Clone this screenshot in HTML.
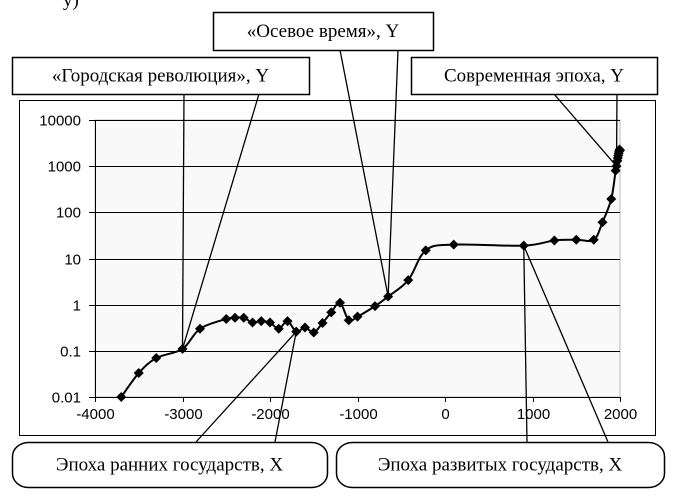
<!DOCTYPE html>
<html><head><meta charset="utf-8">
<style>
body{margin:0;background:#fff;}
svg{display:block;}
.t{font-family:"Liberation Sans",Arial,sans-serif;font-size:15px;fill:#000;}
.b{font-family:"Liberation Serif","Times New Roman",serif;font-size:19px;fill:#000;}
</style></head>
<body>
<svg id="c" width="689" height="497" viewBox="0 0 689 497" xmlns="http://www.w3.org/2000/svg">
<text x="63" y="6" class="b">у)</text>
<rect x="19.5" y="100.5" width="636" height="335" fill="#fff" stroke="#000"/>
<g id="plot"></g>
<g id="callouts"></g>
</svg>
<script>
const years=[-3700,-3500,-3300,-3000,-2800,-2500,-2400,-2300,-2200,-2100,-2000,-1900,-1800,-1700,-1600,-1500,-1400,-1300,-1200,-1100,-1000,-800,-650,-420,-220,100,900,1250,1500,1700,1800,1900,1950,1960,1970,1975,1980,1985,1990,1995,2000];
const values=[0.01,0.033,0.07,0.11,0.3,0.49,0.52,0.52,0.41,0.44,0.41,0.3,0.44,0.26,0.32,0.25,0.4,0.68,1.1,0.46,0.55,0.93,1.5,3.4,15,20,19,24.6,25.5,25.5,61,195,800,1000,1300,1500,1700,1900,2100,2300,2200];
const xTicks=[-4000,-3000,-2000,-1000,0,1000,2000];
const yTicks=[0.01,0.1,1,10,100,1000,10000];
const yTickLabels=["0.01","0.1","1","10","100","1000","10000"];
const X0=95,X1=620,Y0=397,Y1=120;
const xs=v=>X0+(v+4000)/6000*(X1-X0);
const ys=v=>Y0-(Math.log10(v)+2)/6*(Y0-Y1);
const NS="http://www.w3.org/2000/svg";
const plot=document.getElementById('plot');
function mk(tag,attrs,parent){const e=document.createElementNS(NS,tag);for(const k in attrs)e.setAttribute(k,attrs[k]);(parent||plot).appendChild(e);return e;}
let e=mk('rect',{x:X0,y:Y1,width:X1-X0,height:Y0-Y1,fill:'#f9f9f9',stroke:'#bbb','stroke-width':1});


yTicks.forEach((v,i)=>{
  const y=Math.round(ys(v))+0.5;
  let g=mk('line',{x1:X0-6,x2:X1,y1:y,y2:y,stroke:'#000','stroke-width':1});
  
  
  let t=mk('text',{x:X0-14,y:y+5,'text-anchor':'end',class:'t'});
  t.textContent=yTickLabels[i];
  
  
});
xTicks.forEach(v=>{
  const x=Math.round(xs(v))+0.5;
  let g=mk('line',{x1:x,x2:x,y1:Y0,y2:Y0+5,stroke:'#000'});
  
  
  let t=mk('text',{x:x,y:Y0+22,'text-anchor':'middle',class:'t'});
  t.textContent=String(v);
  
  
});
e=mk('line',{x1:X0+0.5,x2:X0+0.5,y1:Y1,y2:Y0,stroke:'#000'});


const P=years.map((yr,i)=>[xs(yr),ys(values[i])]);
let d='M'+P[0][0]+','+P[0][1];
for(let i=0;i<P.length-1;i++){
  const p0=P[i-1]||P[i],p1=P[i],p2=P[i+1],p3=P[i+2]||P[i+1];
  const c1=[p1[0]+(p2[0]-p0[0])/6,p1[1]+(p2[1]-p0[1])/6];
  const c2=[p2[0]-(p3[0]-p1[0])/6,p2[1]-(p3[1]-p1[1])/6];
  d+=' C'+c1[0]+','+c1[1]+' '+c2[0]+','+c2[1]+' '+p2[0]+','+p2[1];
}
e=mk('path',{d:d,fill:'none',stroke:'#000','stroke-width':2});


P.forEach(p=>{
  const m=mk('path',{d:`M${p[0]},${p[1]-5}L${p[0]+5},${p[1]}L${p[0]},${p[1]+5}L${p[0]-5},${p[1]}Z`,fill:'#000'});
  
  
});
const co=document.getElementById('callouts');
function tgt(yr){const i=years.indexOf(yr);return [xs(yr),ys(values[i])];}
function callout(name,box,rounded,label,l1,l2,anchorY,target){
  const [bx,by,bw,bh]=box;
  const [tx,ty]=tgt(target);
  let l=mk('line',{x1:l1,y1:anchorY,x2:tx,y2:ty,stroke:'#000','stroke-width':1.3},co);
  
  
  l=mk('line',{x1:l2,y1:anchorY,x2:tx,y2:ty,stroke:'#000','stroke-width':1.3},co);
  
  
  const r=mk('rect',{x:bx+0.5,y:by+0.5,width:bw,height:bh,fill:'#fff',stroke:'#000','stroke-width':1.5,rx:rounded?16:0,ry:rounded?14:0},co);
  
  
  const t=mk('text',{x:bx+bw/2,y:by+bh/2+6,'text-anchor':'middle',class:'b'},co);
  t.textContent=label;
  
  
}
callout('urban-revolution-callout',[12,57,297,37],false,'«Городская революция», Y',184,259,94,-3000);
callout('axial-age-callout',[213,12,220,38],false,'«Осевое время», Y',340,398,50,-650);
callout('modern-era-callout',[411,57,246,37],false,'Современная эпоха, Y',554,617,94,1960);
callout('early-states-callout',[12,442,315,45],true,'Эпоха ранних государств, X',196,275,442,-1700);
callout('developed-states-callout',[336,442,328,45],true,'Эпоха развитых государств, X',527,608,442,900);
</script>
</body></html>
